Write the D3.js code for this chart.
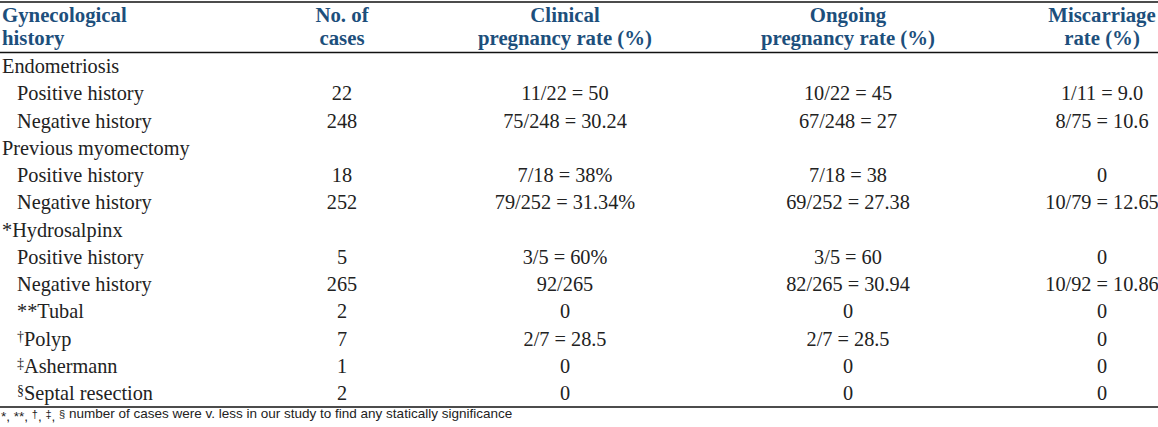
<!DOCTYPE html>
<html>
<head>
<meta charset="utf-8">
<script src="https://cdn.jsdelivr.net/npm/d3@7"></script>
<style>
  html, body { margin: 0; padding: 0; background: #fff; }
  svg { display: block; }
</style>
</head>
<body>
<svg id="chart" width="1158" height="427"></svg>
<script>
// ---------- data ----------
const headerLine1 = ["Gynecological", "No. of", "Clinical", "Ongoing", "Miscarriage"];
const headerLine2 = ["history", "cases", "pregnancy rate (%)", "pregnancy rate (%)", "rate (%)"];

const rowMarkers = ["", "", "", "", "", "", "*", "", "", "**", "\u2020", "\u2021", "\u00A7"];
const rowLabels = ["Endometriosis", "Positive history", "Negative history",
  "Previous myomectomy", "Positive history", "Negative history",
  "Hydrosalpinx", "Positive history", "Negative history",
  "Tubal", "Polyp", "Ashermann", "Septal resection"];
const rowIndent = [0, 1, 1, 0, 1, 1, 0, 1, 1, 1, 1, 1, 1];
const rowMarkerSup = [false, false, false, false, false, false, false, false, false, false, true, true, true];

const casesCol = ["", "22", "248", "", "18", "252", "", "5", "265", "2", "7", "1", "2"];
const clinicalCol = ["", "11/22 = 50", "75/248 = 30.24", "", "7/18 = 38%", "79/252 = 31.34%", "",
  "3/5 = 60%", "92/265", "0", "2/7 = 28.5", "0", "0"];
const ongoingCol = ["", "10/22 = 45", "67/248 = 27", "", "7/18 = 38", "69/252 = 27.38", "",
  "3/5 = 60", "82/265 = 30.94", "0", "2/7 = 28.5", "0", "0"];
const miscarriageCol = ["", "1/11 = 9.0", "8/75 = 10.6", "", "0", "10/79 = 12.65", "",
  "0", "10/92 = 10.86", "0", "0", "0", "0"];

const footMarkers = ["*", "**", "\u2020", "\u2021", "\u00A7"];
const footText = " number of cases were v. less in our study to find any statically significance";

// ---------- layout ----------
const W = 1158;
const svg = d3.select("#chart");
const serif = "'Liberation Serif', 'Times New Roman', serif";
const headColor = "#1d4f7c";
const textColor = "#222";
const fs = 20.3;
const hfs = 20.8;

const colX = d3.scaleOrdinal()
  .domain(["label", "cases", "clinical", "ongoing", "miscarriage"])
  .range([2, 342, 565, 848, 1102]);
const colKeys = colX.domain();

const rowY = d3.scalePoint()
  .domain(d3.range(rowLabels.length))
  .range([73, 400]);

// rules
[[2, 1.6], [52.5, 1.6], [407, 1.6]].forEach(([y, w]) => {
  svg.append("line").attr("x1", 0).attr("x2", W).attr("y1", y).attr("y2", y)
    .attr("stroke", "#111").attr("stroke-width", w);
});

// headers
const hdr = svg.append("g").attr("font-family", serif).attr("font-weight", "bold")
  .attr("font-size", hfs).attr("fill", headColor);
[headerLine1, headerLine2].forEach((line, li) => {
  hdr.selectAll(null).data(line).enter().append("text")
    .attr("x", (d, i) => colX(colKeys[i]))
    .attr("y", li === 0 ? 22 : 45)
    .attr("text-anchor", (d, i) => i === 0 ? "start" : "middle")
    .text(d => d);
});

// body labels
const body = svg.append("g").attr("font-family", serif).attr("font-size", fs).attr("fill", textColor);
const lbl = body.selectAll("text.lbl").data(rowLabels).enter().append("text")
  .attr("class", "lbl")
  .attr("x", (d, i) => colX("label") + (rowIndent[i] ? 15 : 0))
  .attr("y", (d, i) => rowY(i));
lbl.each(function (d, i) {
  const t = d3.select(this);
  if (rowMarkers[i]) {
    if (rowMarkerSup[i]) {
      t.append("tspan").attr("font-size", 14).attr("dy", -5).text(rowMarkers[i]);
      t.append("tspan").attr("dy", 5).text(d);
    } else {
      t.append("tspan").text(rowMarkers[i]);
      t.append("tspan").text(d);
    }
  } else {
    t.text(d);
  }
});

// value columns
const valueCols = [["cases", casesCol], ["clinical", clinicalCol], ["ongoing", ongoingCol], ["miscarriage", miscarriageCol]];
valueCols.forEach(([key, vals]) => {
  body.selectAll(null).data(vals).enter().append("text")
    .attr("x", colX(key))
    .attr("y", (d, i) => rowY(i))
    .attr("text-anchor", "middle")
    .text(d => d);
});

// footnote
const foot = svg.append("text").attr("x", 1).attr("y", 420.5)
  .attr("font-family", "'Liberation Sans', Arial, sans-serif")
  .attr("font-size", 13.5).attr("fill", textColor);
footMarkers.forEach((m, i) => {
  const sup = i >= 2;
  foot.append("tspan").attr("font-size", sup ? 11 : 13.5).attr("dy", sup ? -3 : 0).text(m);
  if (sup) foot.append("tspan").attr("dy", 3).text(i < footMarkers.length - 1 ? ", " : "");
  else foot.append("tspan").text(", ");
});
foot.append("tspan").text(footText);
</script>
</body>
</html>
